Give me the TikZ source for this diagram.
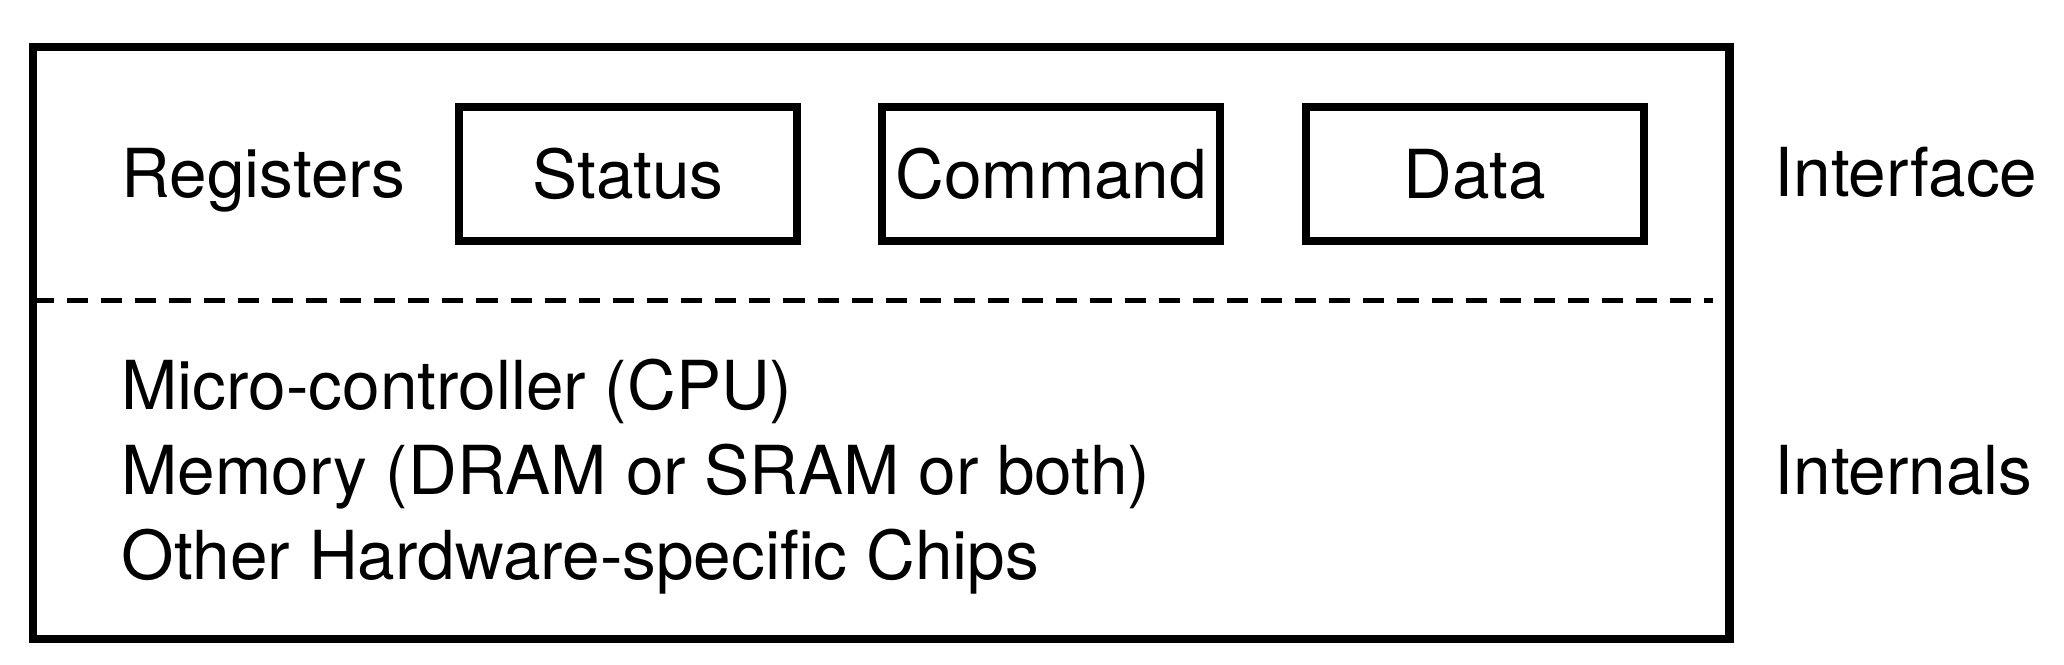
\documentclass[tikz,border=0pt]{standalone}
\usepackage{fontspec}
\setmainfont{TeX Gyre Heros}
\usetikzlibrary{positioning}
\tikzset{
  regbox/.style={rectangle, draw=black, line width=2.3pt, minimum width=3.38cm, minimum height=1.345cm, inner sep=0pt, text centered},
  plaintext/.style={anchor=base west, inner sep=0pt},
  frame/.style={draw=black, line width=2.3pt},
  divider/.style={line width=1.6pt, dash pattern=on 6pt off 3.7pt}
}
\begin{document}
\begin{tikzpicture}[x=0.01cm, y=-0.01cm, every node/.style={font=\fontsize{19.2}{23}\selectfont}]
    \useasboundingbox (0,0) rectangle (2064,665);

    % Geraet
    \draw [frame] (33,46.7) rectangle (1729.5,639);
    \draw [divider] (33,300.5) -- (1713,300.5);

    % Register
    \node (registers) [plaintext] at (121,198) {Registers};
    \node (status) [regbox] at (628,174) {Status};
    \node (command) [regbox, right=0.77cm of status] {Command};
    \node (data) [regbox, right=0.77cm of command] {Data};

    % Innenleben
    \node (cpu) [plaintext] at (121,410) {Micro-controller (CPU)};
    \node (memory) [plaintext] at (121,495) {Memory (DRAM or SRAM or both)};
    \node (chips) [plaintext] at (121,580) {Other Hardware-specific Chips};

    % Seiten
    \node (interface) [plaintext] at (1774,197) {Interface};
    \node (internals) [plaintext] at (1774,495) {Internals};

\end{tikzpicture}
\end{document}
